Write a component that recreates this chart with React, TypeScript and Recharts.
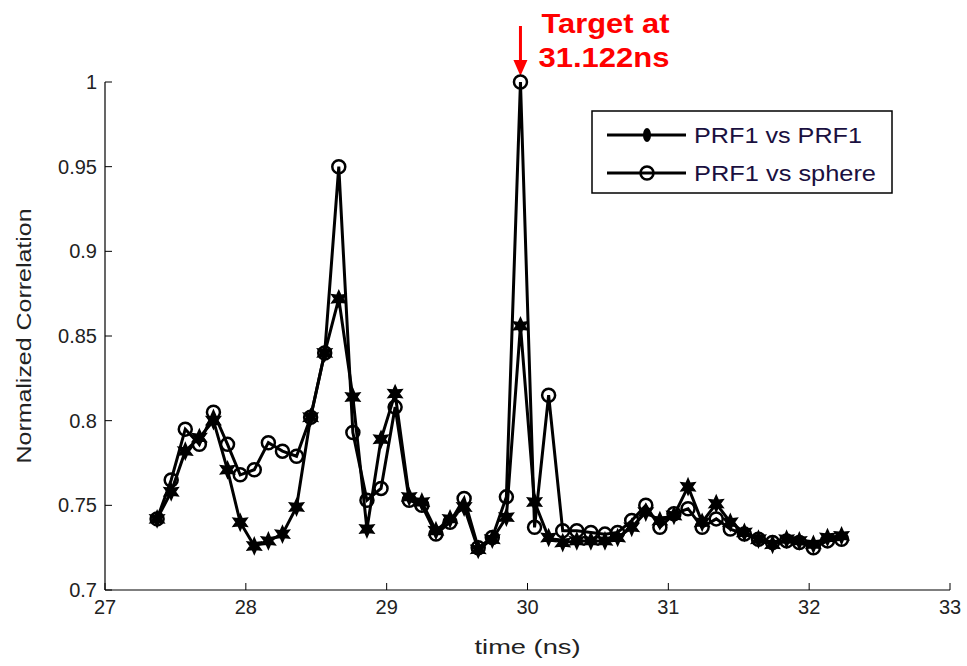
import { LineChart, Line, XAxis, YAxis, Legend, ReferenceDot } from 'recharts';

// sample times (ns)
const times = [
  27.37, 27.47, 27.57, 27.67, 27.77, 27.87, 27.96, 28.06, 28.16, 28.26,
  28.36, 28.46, 28.56, 28.66, 28.76, 28.86, 28.96, 29.06, 29.16, 29.25,
  29.35, 29.45, 29.55, 29.65, 29.75, 29.85, 29.95, 30.05, 30.15, 30.25,
  30.35, 30.45, 30.55, 30.64, 30.74, 30.84, 30.94, 31.04, 31.14, 31.24,
  31.34, 31.44, 31.54, 31.64, 31.74, 31.84, 31.93, 32.03, 32.13, 32.23,
];

const prfVsPrf = [
  0.742, 0.758, 0.782, 0.790, 0.800, 0.771, 0.740, 0.726, 0.729, 0.733,
  0.749, 0.802, 0.840, 0.872, 0.814, 0.736, 0.789, 0.816, 0.755, 0.752,
  0.735, 0.742, 0.749, 0.724, 0.730, 0.743, 0.856, 0.752, 0.731, 0.728,
  0.729, 0.729, 0.729, 0.731, 0.737, 0.746, 0.741, 0.744, 0.761, 0.740,
  0.751, 0.740, 0.734, 0.730, 0.727, 0.730, 0.729, 0.727, 0.731, 0.732,
];

const prfVsSphere = [
  0.742, 0.765, 0.795, 0.786, 0.805, 0.786, 0.768, 0.771, 0.787, 0.782,
  0.779, 0.802, 0.840, 0.950, 0.793, 0.753, 0.760, 0.808, 0.753, 0.750,
  0.733, 0.740, 0.754, 0.725, 0.731, 0.755, 1.000, 0.737, 0.815, 0.735,
  0.735, 0.734, 0.733, 0.734, 0.741, 0.750, 0.737, 0.745, 0.748, 0.737,
  0.742, 0.736, 0.733, 0.730, 0.728, 0.729, 0.728, 0.725, 0.729, 0.730,
];

const xTicks = [27, 28, 29, 30, 31, 32, 33];
const yTicks = [0.7, 0.75, 0.8, 0.85, 0.9, 0.95, 1];

const seriesNames = ['PRF1 vs PRF1', 'PRF1 vs sphere'];
const targetLabel = ['Target at', '31.122ns'];

const data = times.map((t, i) => ({ t, prf: prfVsPrf[i], sphere: prfVsSphere[i] }));
const peakIdx = prfVsSphere.indexOf(Math.max(...prfVsSphere));

const FONT = '"Liberation Sans", Arial, Helvetica, sans-serif';
const TICK = 7;

function starPoints(cx: number, cy: number, ro: number, ri: number) {
  const pts: string[] = [];
  for (let k = 0; k < 12; k++) {
    const a = ((-90 + k * 30) * Math.PI) / 180;
    const r = k % 2 === 0 ? ro : ri;
    pts.push(`${cx + r * Math.cos(a)},${cy + r * Math.sin(a)}`);
  }
  return pts.join(' ');
}

const StarDot = (props: any) => {
  const { cx, cy, index } = props;
  if (cx == null || cy == null) return <g key={`s${index}`} />;
  return <polygon key={`s${index}`} points={starPoints(cx, cy, 8, 4)} fill="#000" stroke="#000" strokeWidth={1.5} />;
};

const RingDot = (props: any) => {
  const { cx, cy, index } = props;
  if (cx == null || cy == null) return <g key={`c${index}`} />;
  return <circle key={`c${index}`} cx={cx} cy={cy} r={6.5} fill="none" stroke="#000" strokeWidth={2.5} />;
};

// MATLAB style: ticks point inward on every side of the box
const BottomTick = ({ x, y, payload }: any) => (
  <g>
    <line x1={x} y1={y} x2={x} y2={y - TICK} stroke="#000" />
    <text x={x} y={y + 24} textAnchor="middle" fontSize={20} fontFamily={FONT} fill="#222">
      {payload.value}
    </text>
  </g>
);

const TopTick = ({ x, y }: any) => <line x1={x} y1={y} x2={x} y2={y + TICK} stroke="#000" />;

const LeftTick = ({ x, y, payload }: any) => (
  <g>
    <line x1={x} y1={y} x2={x + TICK} y2={y} stroke="#000" />
    <text x={x - 8} y={y + 7} textAnchor="end" fontSize={20} fontFamily={FONT} fill="#222">
      {payload.value}
    </text>
  </g>
);

const RightTick = ({ x, y }: any) => <line x1={x} y1={y} x2={x - TICK} y2={y} stroke="#000" />;

const LegendBox = () => (
  <svg width={302} height={84} style={{ display: 'block' }}>
    <rect x={1} y={1} width={300} height={82} fill="#fff" stroke="#000" strokeWidth={1.5} />
    <line x1={16} y1={25} x2={95} y2={25} stroke="#000" strokeWidth={3} />
    <ellipse cx={56} cy={25} rx={4} ry={7} fill="#000" />
    <text x={103} y={33} fontSize={22} fontFamily={FONT} fill="#1a1040" textLength={168} lengthAdjust="spacingAndGlyphs">
      {seriesNames[0]}
    </text>
    <line x1={16} y1={63} x2={95} y2={63} stroke="#000" strokeWidth={3} />
    <circle cx={56} cy={63} r={6.5} fill="none" stroke="#000" strokeWidth={2.5} />
    <text x={103} y={71} fontSize={22} fontFamily={FONT} fill="#1a1040" textLength={182} lengthAdjust="spacingAndGlyphs">
      {seriesNames[1]}
    </text>
  </svg>
);

const TargetMark = ({ cx, cy }: any) => {
  if (cx == null || cy == null) return <g />;
  return (
    <g>
      <line x1={cx} y1={cy - 56} x2={cx} y2={cy - 20} stroke="#f00" strokeWidth={3} />
      <polygon points={`${cx - 7},${cy - 22} ${cx + 7},${cy - 22} ${cx},${cy - 6}`} fill="#f00" />
      <text x={cx + 21} y={cy - 49} fontSize={28} fontWeight="bold" fontFamily={FONT} fill="#f00" textLength={128} lengthAdjust="spacingAndGlyphs">
        {targetLabel[0]}
      </text>
      <text x={cx + 18} y={cy - 15} fontSize={28} fontWeight="bold" fontFamily={FONT} fill="#f00" textLength={131} lengthAdjust="spacingAndGlyphs">
        {targetLabel[1]}
      </text>
    </g>
  );
};

export default function App() {
  return (
    <div style={{ position: 'absolute', left: 0, top: 0, width: 967, height: 666, background: '#fff' }}>
      <LineChart width={967} height={666} data={data} margin={{ top: 82, right: 17, bottom: 36, left: 45 }}>
        <XAxis
          dataKey="t"
          type="number"
          domain={[27, 33]}
          ticks={xTicks}
          height={40}
          tickSize={0}
          tickMargin={0}
          tickLine={false}
          tick={BottomTick}
          axisLine={{ stroke: '#000', strokeWidth: 1.2 }}
          label={{
            content: (p: any) => {
              const vb = p.viewBox;
              return (
                <text x={vb.x + vb.width / 2} y={654} textAnchor="middle" fontSize={21} fontFamily={FONT} fill="#222" textLength={106} lengthAdjust="spacingAndGlyphs">
                  time (ns)
                </text>
              );
            },
          }}
        />
        <XAxis
          xAxisId="top"
          orientation="top"
          dataKey="t"
          type="number"
          domain={[27, 33]}
          ticks={xTicks}
          height={0}
          tickSize={0}
          tickMargin={0}
          tickLine={false}
          tick={TopTick}
          axisLine={{ stroke: '#000', strokeWidth: 1.2 }}
        />
        <YAxis
          type="number"
          domain={[0.7, 1]}
          ticks={yTicks}
          width={60}
          tickSize={0}
          tickMargin={0}
          tickLine={false}
          tick={LeftTick}
          axisLine={{ stroke: '#000', strokeWidth: 1.2 }}
          label={{
            content: (p: any) => {
              const vb = p.viewBox;
              const cy = vb.y + vb.height / 2;
              return (
                <text transform={`translate(31,${cy}) rotate(-90)`} textAnchor="middle" fontSize={21} fontFamily={FONT} fill="#222" textLength={255} lengthAdjust="spacingAndGlyphs">
                  Normalized Correlation
                </text>
              );
            },
          }}
        />
        <YAxis
          yAxisId="right"
          orientation="right"
          type="number"
          domain={[0.7, 1]}
          ticks={yTicks}
          width={0}
          tickSize={0}
          tickMargin={0}
          tickLine={false}
          tick={RightTick}
          axisLine={{ stroke: '#000', strokeWidth: 1.2 }}
        />
        <Line
          type="linear"
          dataKey="prf"
          name={seriesNames[0]}
          stroke="#000"
          strokeWidth={3}
          dot={StarDot}
          activeDot={false}
          isAnimationActive={false}
        />
        <Line
          type="linear"
          dataKey="sphere"
          name={seriesNames[1]}
          stroke="#000"
          strokeWidth={3}
          dot={RingDot}
          activeDot={false}
          isAnimationActive={false}
        />
        <ReferenceDot x={times[peakIdx]} y={prfVsSphere[peakIdx]} ifOverflow="visible" shape={TargetMark} />
        <Legend
          layout="vertical"
          align="center"
          verticalAlign="middle"
          content={LegendBox}
          wrapperStyle={{ left: 591, top: 110, width: 302, height: 84 }}
        />
      </LineChart>
    </div>
  );
}
